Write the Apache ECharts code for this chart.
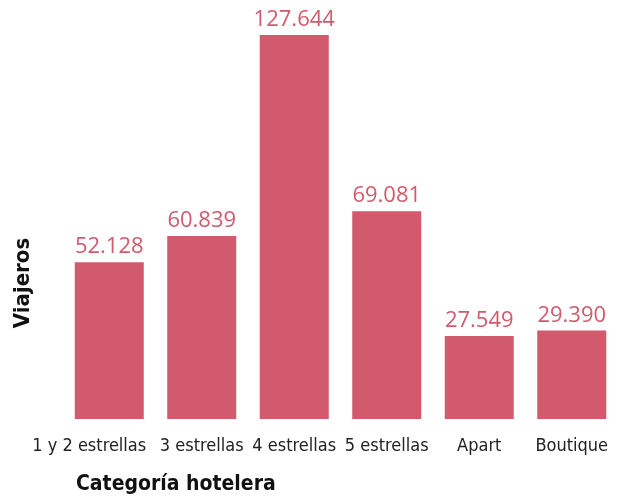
<!DOCTYPE html>
<html><head><meta charset="utf-8">
<script src="https://cdn.jsdelivr.net/npm/echarts@6/dist/echarts.min.js"></script>
<style>html,body{margin:0;padding:0;background:#fff}#c{width:618px;height:501px}</style>
</head><body><div id="c"></div>
<script>
const categories = ['1 y 2 estrellas','3 estrellas','4 estrellas','5 estrellas','Apart','Boutique'];
const viajeros = [52128, 60839, 127644, 69081, 27549, 29390];
const xTitle = 'Categoría hotelera';
const yTitle = 'Viajeros';

const fmt = v => v.toLocaleString('de-DE');
const narrow = "'Liberation Sans Narrow','DejaVu Sans Condensed',sans-serif";
const chart = echarts.init(document.getElementById('c'), null, {renderer:'canvas'});
chart.setOption({
  animation: false,
  grid: {left: 63, width: 560, top: 35, bottom: 82, containLabel: false},
  xAxis: {
    type: 'category',
    data: categories.map((c, i) => i === 0 ? {value: c, textStyle: {padding: [0, 40, 0, 0]}} : c),
    axisLine: {show: false}, axisTick: {show: false},
    axisLabel: {color: '#222', fontSize: 18, margin: 18, interval: 0, fontFamily: narrow}
  },
  yAxis: {type: 'value', min: 0, max: 127644, show: false, splitLine: {show: false}},
  series: [{
    type: 'bar', data: viajeros, barWidth: 69,
    itemStyle: {color: '#d15a6c'},
    label: {show: true, position: 'top', distance: 4, color: '#d15a6c', fontSize: 22,
      fontFamily: "'Open Sans',sans-serif",
      formatter: p => fmt(p.value)}
  }],
  graphic: [
    {type: 'text', left: 76, top: 474, style: {text: xTitle, fontSize: 21, fontWeight: 'bold',
      fill: '#111', fontFamily: narrow}},
    {type: 'text', x: 23, y: 283, rotation: Math.PI/2,
      style: {text: yTitle, fontSize: 22, fontWeight: 'bold', fill: '#111', align: 'center', verticalAlign: 'middle',
      fontFamily: narrow}}
  ]
});
</script></body></html>
